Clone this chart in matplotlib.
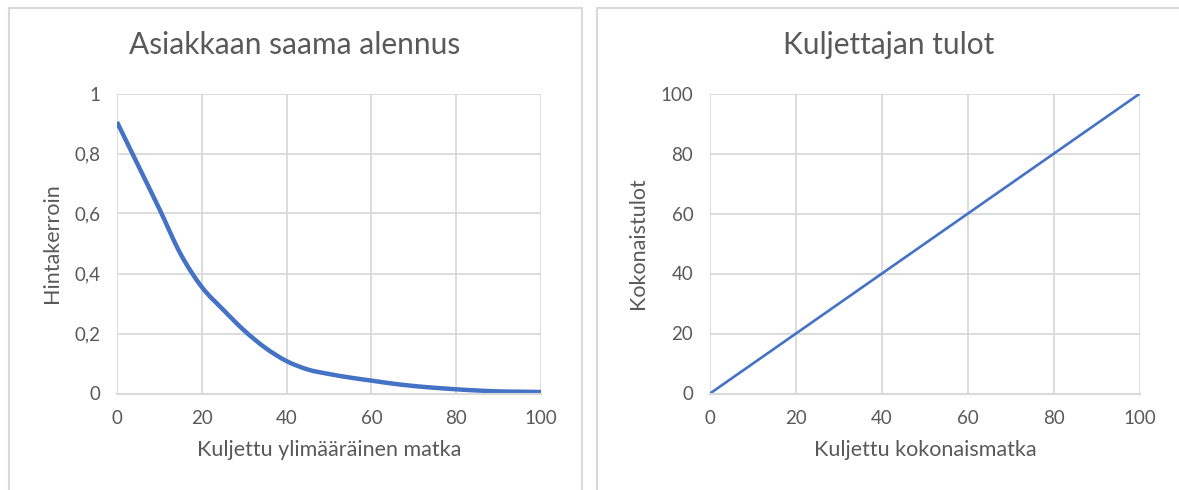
import numpy as np
import matplotlib.pyplot as plt
from matplotlib.patches import Rectangle, PathPatch
from matplotlib.path import Path

plt.rcParams['font.family'] = ['Lato', 'DejaVu Sans']

# vasen kaavio: alennus
matka = [0, 5, 10, 15, 20, 25, 30, 35, 40, 45, 50, 55, 60, 65, 70, 75, 80, 85, 90, 95, 100]
kerroin = [0.905, 0.76, 0.615, 0.465, 0.355, 0.28, 0.21, 0.152, 0.108, 0.08, 0.065,
           0.053, 0.043, 0.033, 0.025, 0.019, 0.014, 0.010, 0.007, 0.006, 0.005]

# oikea kaavio: tulot
kokonaismatka = [0, 100]
tulot = [0, 100]

sininen = '#4472C4'
harmaa = '#D9D9D9'
teksti = '#595959'

W, H = 1179, 490
fig = plt.figure(figsize=(W / 100, H / 100), dpi=100)

# kaavioalueiden reunat
fig.patches.append(Rectangle((9 / W, -0.1), (582 - 9) / W, 1.1 - 8 / H,
                             transform=fig.transFigure, fill=False,
                             edgecolor=harmaa, lw=1.5))
fig.patches.append(Rectangle((597 / W, -0.1), 0.6, 1.1 - 8 / H,
                             transform=fig.transFigure, fill=False,
                             edgecolor=harmaa, lw=1.5))


def pehmea_viiva(ax, x, y, **kw):
    # Excelin "tasoitettu viiva": Bezier-kaaret pisteiden kautta
    x = np.asarray(x, float)
    y = np.asarray(y, float)
    px = np.concatenate([[x[0]], x, [x[-1]]])
    py = np.concatenate([[y[0]], y, [y[-1]]])
    verts = [(x[0], y[0])]
    codes = [Path.MOVETO]
    t = 1 / 6
    for i in range(1, len(x)):
        c1 = (px[i] + (px[i + 1] - px[i - 1]) * t, py[i] + (py[i + 1] - py[i - 1]) * t)
        c2 = (px[i + 1] - (px[i + 2] - px[i]) * t, py[i + 1] - (py[i + 2] - py[i]) * t)
        verts += [c1, c2, (x[i], y[i])]
        codes += [Path.CURVE4] * 3
    ax.add_patch(PathPatch(Path(verts, codes), fill=False, **kw))


def muotoile(ax):
    for s in ['top', 'right', 'left']:
        ax.spines[s].set_visible(False)
    ax.spines['bottom'].set_color(harmaa)
    ax.spines['bottom'].set_linewidth(1.5)
    ax.grid(True, color=harmaa, lw=1.3)
    ax.set_axisbelow(True)
    ax.tick_params(length=0, colors=teksti, labelsize=13.5, pad=12)
    ax.set_xlim(0, 100)
    ax.set_xticks(range(0, 101, 20))


ax1 = fig.add_axes([117 / W, 1 - 393.5 / H, 424 / W, 300 / H])
pehmea_viiva(ax1, matka, kerroin, edgecolor=sininen, lw=3.2, capstyle='butt')
muotoile(ax1)
ax1.set_ylim(0, 1)
ax1.set_yticks(np.arange(0, 1.01, 0.2))
ax1.set_yticklabels(['0', '0,2', '0,4', '0,6', '0,8', '1'])
ax1.set_xlabel('Kuljettu ylimääräinen matka', color=teksti, fontsize=15.5, labelpad=9)
ax1.set_ylabel('Hintakerroin', color=teksti, fontsize=15.5, labelpad=9)

ax2 = fig.add_axes([710 / W, 1 - 393.5 / H, 430 / W, 300 / H])
ax2.plot(kokonaismatka, tulot, color=sininen, lw=1.9)
muotoile(ax2)
ax2.set_ylim(0, 100)
ax2.set_yticks(range(0, 101, 20))
ax2.set_xlabel('Kuljettu kokonaismatka', color=teksti, fontsize=15.5, labelpad=9)
ax2.set_ylabel('Kokonaistulot', color=teksti, fontsize=15.5, labelpad=9)

fig.text(295 / W, 1 - 45 / H, 'Asiakkaan saama alennus', ha='center', va='center',
         fontsize=21.5, color=teksti)
fig.text(889 / W, 1 - 45 / H, 'Kuljettajan tulot', ha='center', va='center',
         fontsize=21.5, color=teksti)

fig.savefig('out.png', dpi=100)
